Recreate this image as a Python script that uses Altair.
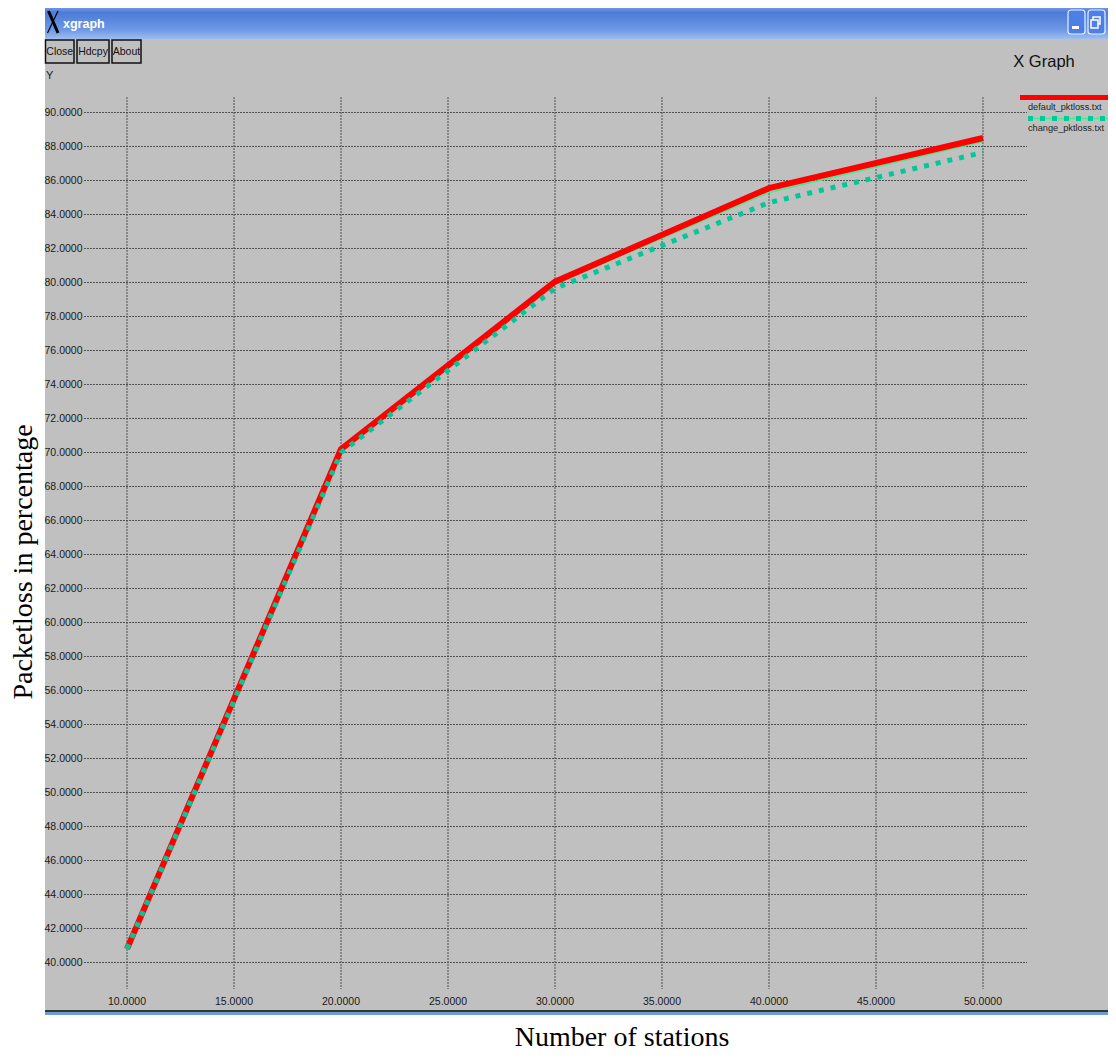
import altair as alt
import pandas as pd

# ---------------- data ----------------
stations = [10, 20, 30, 40, 50]
default_pktloss = [40.8, 70.2, 80.05, 85.55, 88.5]
change_pktloss = [40.8, 70.0, 79.65, 84.7, 87.65]
change_thin = [40.8, 70.1, 79.9, 85.3, 88.3]
y_ticks = [40, 42, 44, 46, 48, 50, 52, 54, 56, 58, 60, 62, 64, 66, 68, 70,
           72, 74, 76, 78, 80, 82, 84, 86, 88, 90]
x_ticks = [10, 15, 20, 25, 30, 35, 40, 45, 50]
legend_names = ["default_pktloss.txt", "change_pktloss.txt"]
graph_title = "X Graph"
window_title = "xgraph"
buttons = ["Close", "Hdcpy", "About"]
x_title = "Number of stations"
y_title = "Packetloss in percentage"

# ---------------- layout ----------------
W, H = 1100, 1045
OX, OY = 8, 8
UI = "Liberation Sans, Arial, sans-serif"
SERIF = "Liberation Serif, Times New Roman, serif"


def px(v):
    return v - OX


def py(v):
    return v - OY


x10, x50 = px(127), px(983)
kx = (x50 - x10) / 40.0
x_dom = [10 - x10 / kx, 10 + (W - x10) / kx]
y90, y40 = py(112.5), py(962.5)
ky = (y40 - y90) / 50.0
y_dom = [40 - (H - y40) / ky, 90 + y90 / ky]

xs = alt.Scale(domain=x_dom, nice=False, zero=False)
ys = alt.Scale(domain=y_dom, nice=False, zero=False)

one = alt.Data(values=[{"a": 1}])


def box(x1, y1, x2, y2, **kw):
    return alt.Chart(one).mark_rect(**kw).encode(
        x=alt.value(px(x1)), x2=alt.value(px(x2)),
        y=alt.value(py(y1)), y2=alt.value(py(y2)))


def label(x, y, text, **kw):
    return alt.Chart(one).mark_text(text=text, **kw).encode(
        x=alt.value(px(x)), y=alt.value(py(y)))


def seg(x1, y1, x2, y2, **kw):
    return alt.Chart(one).mark_rule(**kw).encode(
        x=alt.value(px(x1)), x2=alt.value(px(x2)),
        y=alt.value(py(y1)), y2=alt.value(py(y2)))


layers = []

# window title bar
grad = alt.LinearGradient(
    gradient="linear", x1=0, y1=0, x2=0, y2=1,
    stops=[alt.GradientStop(offset=0, color="#6f96e2"),
           alt.GradientStop(offset=0.15, color="#4c7bd8"),
           alt.GradientStop(offset=0.7, color="#6e98e4"),
           alt.GradientStop(offset=1, color="#9dbdf0")])
layers.append(box(45, 8, 1116, 39, fill=grad))
# X11 logo
layers.append(seg(48.5, 11, 58, 33, color="black", strokeWidth=3))
layers.append(seg(58, 11, 47.5, 33, color="black", strokeWidth=1.2))
layers.append(label(63, 24, window_title, font=UI, fontSize=12.5, fontWeight="bold",
                    color="white", align="left", baseline="middle"))
# title bar buttons
for bx in [1068, 1088]:
    layers.append(box(bx, 10, bx + 17, 34, fill="#4d7fe6", stroke="#e8f0ff",
                      strokeWidth=1.2, cornerRadius=3))
layers.append(box(1072, 26, 1079, 29, fill="white"))
layers.append(box(1093, 17, 1100, 24, fill="none", stroke="white", strokeWidth=1.5))
layers.append(box(1091, 20, 1098, 28, fill="#4d7fe6", stroke="white", strokeWidth=1.5))

# gray window body
layers.append(box(45, 39, 1116, 1010, fill="#c0c0c0"))
layers.append(box(45, 1010, 1116, 1012, fill="#2c3c30"))
layers.append(box(45, 1012, 1116, 1015, fill="#6f9bd6"))

# buttons
for (bx1, bx2), name in zip([(45.5, 74), (77, 109), (112, 141)], buttons):
    layers.append(box(bx1, 40, bx2, 63, fill="#c0c0c0", stroke="#111111", strokeWidth=1.5))
    layers.append(label((bx1 + bx2) / 2, 52, name, font=UI, fontSize=10.5,
                        color="#111111", align="center", baseline="middle"))
layers.append(label(46, 76, "Y", font=UI, fontSize=11, color="#222222",
                    align="left", baseline="middle"))

# graph title
layers.append(label(1044, 62, graph_title, font=UI, fontSize=16.5, color="#111111",
                    align="center", baseline="middle"))

# grid
ydf = pd.DataFrame({"v": y_ticks, "lab": [f"{v:.4f}" for v in y_ticks]})
xdf = pd.DataFrame({"v": x_ticks, "lab": [f"{v:.4f}" for v in x_ticks]})
layers.append(alt.Chart(ydf).mark_rule(color="#505050", strokeWidth=1, strokeDash=[2, 1]).encode(
    y=alt.Y("v:Q", scale=ys, axis=None), x=alt.value(px(84)), x2=alt.value(px(1027))))
layers.append(alt.Chart(xdf).mark_rule(color="#505050", strokeWidth=1, strokeDash=[2, 1]).encode(
    x=alt.X("v:Q", scale=xs, axis=None), y=alt.value(py(97)), y2=alt.value(py(989))))
layers.append(alt.Chart(ydf).mark_text(font=UI, fontSize=10.5, color="#1a1a1a",
                                       align="right", baseline="middle").encode(
    y=alt.Y("v:Q", scale=ys, axis=None), x=alt.value(px(82.5)), text="lab:N"))
layers.append(alt.Chart(xdf).mark_text(font=UI, fontSize=10.5, color="#1a1a1a",
                                       align="center", baseline="middle").encode(
    x=alt.X("v:Q", scale=xs, axis=None), y=alt.value(py(1002)), text="lab:N"))

# data lines
df = pd.DataFrame({"stations": stations, "default": default_pktloss,
                   "change": change_pktloss, "thin": change_thin})
X = alt.X("stations:Q", scale=xs, axis=None)
layers.append(alt.Chart(df).mark_line(color="#3cf08c", strokeWidth=1.5).encode(
    x=X, y=alt.Y("thin:Q", scale=ys, axis=None)))
layers.append(alt.Chart(df).mark_line(color="#ff0000", strokeWidth=6).encode(
    x=X, y=alt.Y("default:Q", scale=ys, axis=None)))
layers.append(alt.Chart(df).mark_line(color="#00c896", strokeWidth=5, strokeDash=[5, 7]).encode(
    x=X, y=alt.Y("change:Q", scale=ys, axis=None)))

# legend
layers.append(seg(1020, 97.5, 1116, 97.5, color="#ff0000", strokeWidth=5))
layers.append(label(1028, 107, legend_names[0], font=UI, fontSize=9.2, color="#222222",
                    align="left", baseline="middle"))
layers.append(seg(1028, 118.5, 1116, 118.5, color="#3cf08c", strokeWidth=1.5))
layers.append(seg(1028, 118.5, 1116, 118.5, color="#00c896", strokeWidth=5, strokeDash=[5, 7]))
layers.append(label(1028, 128, legend_names[1], font=UI, fontSize=9.2, color="#222222",
                    align="left", baseline="middle"))

# outer axis titles
layers.append(label(622, 1046, x_title, font=SERIF, fontSize=28, color="black",
                    align="center", baseline="alphabetic"))
layers.append(label(24, 562, y_title, font=SERIF, fontSize=28, color="black",
                    align="center", baseline="middle", angle=270))

chart = alt.layer(*layers).properties(
    width=W, height=H, padding=0, autosize=alt.AutoSizeParams(type="none"),
    background="white"
).configure_view(stroke=None)

chart.save("out.html", embed_options={"renderer": "svg", "actions": False})
